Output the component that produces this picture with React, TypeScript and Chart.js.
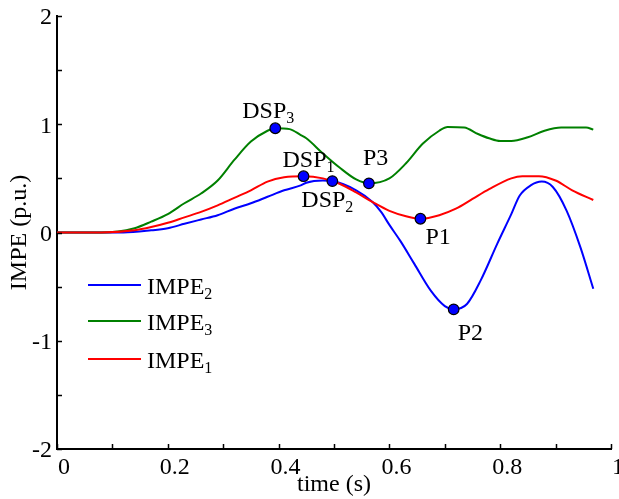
import React, { useEffect, useRef } from 'react';
import { Chart, registerables } from 'chart.js';

Chart.register(...registerables);

// ---- Data ----
const impe2X = [0, 0.12, 0.17, 0.2, 0.23, 0.26, 0.29, 0.32, 0.35, 0.38, 0.41, 0.44, 0.45, 0.48, 0.497, 0.54, 0.57, 0.585, 0.6, 0.62, 0.645, 0.675, 0.7, 0.716, 0.74, 0.765, 0.795, 0.82, 0.835, 0.855, 0.875, 0.895, 0.92, 0.945, 0.968];
const impe2Y = [0, 0, 0.02, 0.04, 0.08, 0.12, 0.16, 0.22, 0.27, 0.33, 0.39, 0.435, 0.46, 0.48, 0.475, 0.39, 0.28, 0.19, 0.07, -0.08, -0.29, -0.54, -0.68, -0.71, -0.66, -0.44, -0.1, 0.17, 0.34, 0.435, 0.47, 0.42, 0.2, -0.14, -0.52];

const impe3X = [0, 0.08, 0.14, 0.17, 0.2, 0.23, 0.26, 0.29, 0.32, 0.35, 0.38, 0.394, 0.42, 0.44, 0.45, 0.48, 0.51, 0.54, 0.563, 0.6, 0.63, 0.66, 0.69, 0.705, 0.735, 0.76, 0.78, 0.8, 0.82, 0.85, 0.88, 0.91, 0.955, 0.968];
const impe3Y = [0, 0, 0.04, 0.1, 0.17, 0.27, 0.36, 0.48, 0.67, 0.84, 0.94, 0.963, 0.955, 0.9, 0.87, 0.73, 0.6, 0.49, 0.454, 0.5, 0.64, 0.82, 0.94, 0.975, 0.97, 0.91, 0.87, 0.845, 0.845, 0.88, 0.94, 0.97, 0.97, 0.95];

const impe1X = [0, 0.08, 0.14, 0.17, 0.2, 0.23, 0.26, 0.29, 0.32, 0.35, 0.38, 0.41, 0.445, 0.48, 0.51, 0.54, 0.57, 0.6, 0.63, 0.656, 0.69, 0.72, 0.75, 0.78, 0.82, 0.84, 0.87, 0.9, 0.93, 0.968];
const impe1Y = [0, 0, 0.02, 0.05, 0.09, 0.14, 0.19, 0.25, 0.32, 0.39, 0.47, 0.51, 0.52, 0.5, 0.45, 0.37, 0.28, 0.2, 0.15, 0.127, 0.16, 0.22, 0.31, 0.4, 0.5, 0.52, 0.52, 0.48, 0.39, 0.3];

const markerNames = ['DSP_3', 'DSP_1', 'DSP_2', 'P3', 'P1', 'P2'];
const markerX = [0.394, 0.445, 0.497, 0.563, 0.656, 0.716];
const markerY = [0.963, 0.52, 0.475, 0.454, 0.127, -0.71];

const seriesLabels = ['IMPE_2', 'IMPE_3', 'IMPE_1'];
const xLabelValues = [0, 0.2, 0.4, 0.6, 0.8, 1];
const yLabelValues = [-2, -1, 0, 1, 2];

// ---- Styles / layout (not data) ----
const FONT = 'Liberation Serif';
const labelOffsets = [
  { dx: -33, dy: -10 },
  { dx: -21, dy: -9 },
  { dx: -31, dy: 26 },
  { dx: -6, dy: -18 },
  { dx: 5, dy: 25 },
  { dx: 4, dy: 31 },
];
const legendPos = { x1: 88, x2: 141, textX: 147, ys: [285, 321, 359] };

const toPts = (xs: number[], ys: number[]) => xs.map((x, i) => ({ x, y: ys[i] }));

function drawSubText(ctx: CanvasRenderingContext2D, text: string, x: number, y: number) {
  const [main, sub] = text.split('_');
  ctx.font = `24px "${FONT}"`;
  ctx.textAlign = 'left';
  ctx.textBaseline = 'alphabetic';
  ctx.fillStyle = '#000';
  ctx.fillText(main, x, y);
  if (sub) {
    const w = ctx.measureText(main).width;
    ctx.font = `16px "${FONT}"`;
    ctx.fillText(sub, x + w, y + 5);
  }
}

const decorPlugin = {
  id: 'decor',
  afterDatasetsDraw(chart: any) {
    const ctx: CanvasRenderingContext2D = chart.ctx;
    ctx.save();
    // marker labels
    const meta = chart.getDatasetMeta(3);
    meta.data.forEach((pt: any, i: number) => {
      const o = labelOffsets[i];
      drawSubText(ctx, markerNames[i], pt.x + o.dx, pt.y + o.dy);
    });
    // legend
    const colors = ['#0000ff', '#008000', '#ff0000'];
    seriesLabels.forEach((lab, i) => {
      const y = legendPos.ys[i];
      ctx.strokeStyle = colors[i];
      ctx.lineWidth = 2;
      ctx.beginPath();
      ctx.moveTo(legendPos.x1, y);
      ctx.lineTo(legendPos.x2, y);
      ctx.stroke();
      drawSubText(ctx, lab, legendPos.textX, y + 9);
    });
    ctx.restore();
  },
  afterDraw(chart: any) {
    const ctx: CanvasRenderingContext2D = chart.ctx;
    const xs = chart.scales.x;
    const ys = chart.scales.y;
    ctx.save();
    ctx.strokeStyle = '#000';
    ctx.lineWidth = 1.5;
    ctx.beginPath();
    xs.ticks.forEach((t: any) => {
      const px = Math.round(xs.getPixelForValue(t.value)) + 0.5;
      ctx.moveTo(px, ys.bottom);
      ctx.lineTo(px, ys.bottom - 5);
    });
    ys.ticks.forEach((t: any) => {
      const py = Math.round(ys.getPixelForValue(t.value)) + 0.5;
      ctx.moveTo(xs.left, py);
      ctx.lineTo(xs.left + 5, py);
    });
    ctx.stroke();
    ctx.restore();
  },
};

const isLabel = (v: number, list: number[]) => list.some((l) => Math.abs(l - v) < 1e-6);

export default function App() {
  const ref = useRef<HTMLCanvasElement>(null);
  useEffect(() => {
    if (!ref.current) return;
    Chart.defaults.font.family = FONT;
    const chart = new Chart(ref.current, {
      type: 'line',
      data: {
        datasets: [
          { label: seriesLabels[0], data: toPts(impe2X, impe2Y), borderColor: '#0000ff', borderWidth: 2, pointRadius: 0, cubicInterpolationMode: 'monotone', order: 3 },
          { label: seriesLabels[1], data: toPts(impe3X, impe3Y), borderColor: '#008000', borderWidth: 2, pointRadius: 0, cubicInterpolationMode: 'monotone', order: 2 },
          { label: seriesLabels[2], data: toPts(impe1X, impe1Y), borderColor: '#ff0000', borderWidth: 2, pointRadius: 0, cubicInterpolationMode: 'monotone', order: 1 },
          { label: 'markers', data: toPts(markerX, markerY), showLine: false, pointRadius: 5.3, pointBackgroundColor: '#0000ff', pointBorderColor: '#000', pointBorderWidth: 1.2, order: 0 },
        ] as any,
      },
      options: {
        responsive: false,
        animation: false,
        devicePixelRatio: 1,
        layout: { padding: { top: 16, right: 8, left: 0, bottom: 0 } },
        plugins: { legend: { display: false }, tooltip: { enabled: false } },
        scales: {
          x: {
            type: 'linear',
            min: 0,
            max: 1,
            grid: { display: false, drawTicks: false, tickLength: 0 },
            border: { display: true, color: '#000', width: 2 },
            ticks: {
              stepSize: 0.1,
              autoSkip: false,
              maxRotation: 0,
              labelOffset: 7,
              padding: 4,
              color: '#000',
              font: { family: FONT, size: 24 },
              callback: (v: any) => {
                const n = Number(v);
                if (!isLabel(n, xLabelValues)) return '';
                return Math.abs(n) < 1e-6 ? '0' : Math.abs(n - 1) < 1e-6 ? '1' : n.toFixed(1);
              },
            },
            title: { display: true, text: 'time (s)', color: '#000', font: { family: FONT, size: 24 }, padding: { top: 0, bottom: 0 } },
            afterFit: (s: any) => { s.height = 50; s.paddingLeft = 0; s.paddingRight = 0; },
          },
          y: {
            type: 'linear',
            min: -2,
            max: 2,
            grid: { display: false, drawTicks: false, tickLength: 0 },
            border: { display: true, color: '#000', width: 2 },
            ticks: {
              stepSize: 0.5,
              autoSkip: false,
              labelOffset: 2,
              padding: 5,
              color: '#000',
              font: { family: FONT, size: 24 },
              callback: (v: any) => {
                const n = Number(v);
                return isLabel(n, yLabelValues) ? String(Math.round(n)) : '';
              },
            },
            title: { display: true, text: 'IMPE (p.u.)', color: '#000', font: { family: FONT, size: 24 }, padding: { top: 5, bottom: 0 } },
            afterFit: (s: any) => { s.width = 57; s.paddingTop = 0; s.paddingBottom = 0; },
          },
        },
      } as any,
      plugins: [decorPlugin],
    });
    return () => chart.destroy();
  }, []);
  return (
    <div style={{ position: 'absolute', left: 0, top: 0, width: 619, height: 499, background: '#fff' }}>
      <canvas ref={ref} width={619} height={499} />
    </div>
  );
}
